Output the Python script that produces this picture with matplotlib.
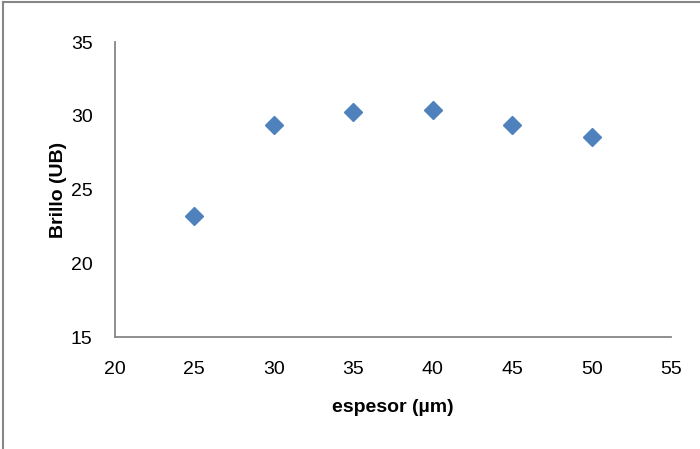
import matplotlib.pyplot as plt
from matplotlib.lines import Line2D

espesor = [25, 30, 35, 40, 45, 50]
brillo = [23.25, 29.4, 30.3, 30.4, 29.4, 28.6]

x_ticks = [20, 25, 30, 35, 40, 45, 50, 55]
y_ticks = [15, 20, 25, 30, 35]

plt.rcParams["font.family"] = ["Liberation Sans", "DejaVu Sans"]

fig = plt.figure(figsize=(7.0, 4.49), dpi=100)
ax = fig.add_axes([0.164, 0.249, 0.795, 0.657])

ax.plot(espesor, brillo, linestyle="none", marker="D", markersize=9.5,
        color="#4F81BD", markeredgecolor="#4F81BD")

ax.set_xlim(20, 55)
ax.set_ylim(15, 35)
ax.set_xticks(x_ticks)
ax.set_yticks(y_ticks)
ax.tick_params(axis="both", length=0, labelsize=14, colors="black")
ax.tick_params(axis="y", pad=16)
ax.tick_params(axis="x", pad=17)

for side in ["top", "right"]:
    ax.spines[side].set_visible(False)
for side in ["left", "bottom"]:
    ax.spines[side].set_color("#868686")
    ax.spines[side].set_linewidth(1.3)

ax.set_xlabel("espesor (µm)", fontsize=14, fontweight="bold", labelpad=15)
ax.set_ylabel("Brillo (UB)", fontsize=14, fontweight="bold", labelpad=3)

# outer frame (top and left edges only)
fig.add_artist(Line2D([0.0045, 1.0], [0.9955, 0.9955], transform=fig.transFigure,
                      color="#868686", linewidth=1.5))
fig.add_artist(Line2D([0.0045, 0.0045], [0.0, 0.9955], transform=fig.transFigure,
                      color="#868686", linewidth=1.5))

fig.savefig("out.png", dpi=100)
